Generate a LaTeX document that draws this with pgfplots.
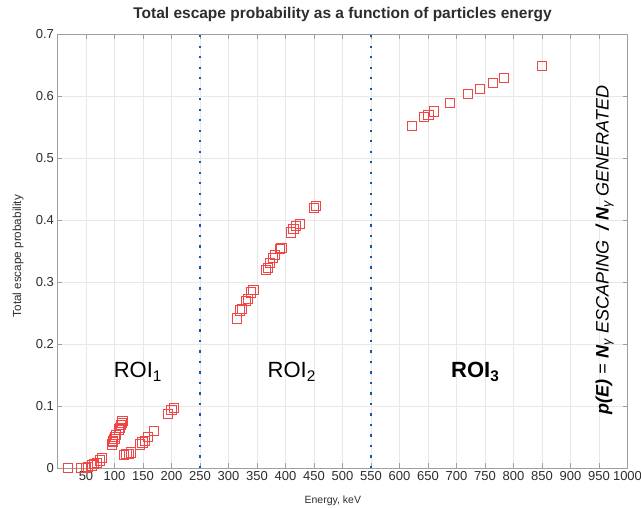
\documentclass[border=0pt]{standalone}
\usepackage{pgfplots}
\pgfplotsset{compat=1.18}
\usepackage{fontspec}
\setmainfont{Liberation Sans}
\definecolor{roired}{RGB}{240,70,70}
\definecolor{mblue}{RGB}{20,90,170}
\definecolor{tickgray}{RGB}{45,45,45}

\begin{document}
\begin{tikzpicture}
\path[use as bounding box, clip] (-57.5pt,-39pt) rectangle (583.5pt,468pt);
\begin{axis}[
  at={(0,0)}, anchor=south west,
  scale only axis,
  width=570pt, height=434pt,
  xmin=0, xmax=1000, ymin=0, ymax=0.7,
  xtick={50,100,150,200,250,300,350,400,450,500,550,600,650,700,750,800,850,900,950,1000},
  ytick={0,0.1,0.2,0.3,0.4,0.5,0.6,0.7},
  yticklabels={0,0.1,0.2,0.3,0.4,0.5,0.6,0.7},
  /pgf/number format/assume math mode=true,
  /pgf/number format/1000 sep={},
  tick label style={font=\fontsize{13}{14}\selectfont, text=tickgray},
  tick align=inside,
  major tick length=5pt,
  tick style={draw=gray!75, line width=0.6pt},
  axis line style={draw=gray!75, line width=0.8pt},
  grid=major,
  grid style={draw=gray!18, line width=0.6pt},
  clip=false,
  title={Total escape probability as a function of particles energy},
  title style={font=\fontsize{15.5}{16}\selectfont\bfseries, text=tickgray, at={(0.5,1)}, anchor=south, yshift=3pt},
  xlabel={Energy, keV},
  xlabel style={font=\fontsize{10.5}{12}\selectfont, text=tickgray, at={(axis description cs:0.483,0)}, anchor=north, yshift=-24pt},
  ylabel={Total escape probability},
  ylabel style={font=\fontsize{11.7}{12}\selectfont, text=tickgray, at={(axis description cs:-0.0693,0.488)}, rotate=0, anchor=center},
]
% ROI boundaries
\addplot[mblue, line width=2.2pt, dash pattern=on 2.2pt off 8.3pt] coordinates {(250,0) (250,0.7)};
\addplot[mblue, line width=2.2pt, dash pattern=on 2.2pt off 8.3pt] coordinates {(550,0) (550,0.7)};

% escape probability
\addplot[only marks, mark=square, mark size=4.6pt,
  mark options={draw=roired, line width=1pt}]
  coordinates {
  (18,0) (42,0) (50,0) (54,0.002) (60,0.004) (64,0.006) (69,0.008) (74,0.012) (78,0.016)
  (95,0.038) (97,0.042) (98,0.044) (100,0.047) (101,0.05) (103,0.053)
  (108,0.062) (110,0.065) (112,0.069) (113,0.072) (114,0.076)
  (116,0.021) (121,0.022) (125,0.023) (129,0.025)
  (145,0.038) (149,0.041) (153,0.043) (159,0.05) (169,0.06)
  (194,0.087) (200,0.094) (205,0.097)
  (315,0.241) (320,0.254) (323,0.257) (330,0.270) (334,0.273) (340,0.283) (344,0.287)
  (366,0.319) (369,0.323) (373,0.331) (378,0.339) (381,0.343) (390,0.353) (393,0.355)
  (410,0.380) (414,0.385) (419,0.390) (425,0.393) (450,0.419) (453,0.422)
  (622,0.552) (643,0.566) (651,0.570) (660,0.575) (688,0.589) (720,0.603)
  (741,0.611) (764,0.621) (783,0.629) (850,0.648)
  };

\node[font=\fontsize{22}{24}\selectfont] at (axis cs:141,0.155) {ROI\textsubscript{1}};
\node[font=\fontsize{22}{24}\selectfont] at (axis cs:411,0.155) {ROI\textsubscript{2}};
\node[font=\fontsize{22}{24}\selectfont\bfseries] at (axis cs:733,0.155) {ROI\textsubscript{3}};
\node[rotate=90, font=\fontsize{18}{20}\selectfont\itshape] at (axis cs:960,0.352)
  {\textbf{p(E)} = \textbf{N}\textsubscript{γ} ESCAPING~~\textbf{/ N}\textsubscript{γ} GENERATED};
\end{axis}
\end{tikzpicture}
\end{document}
